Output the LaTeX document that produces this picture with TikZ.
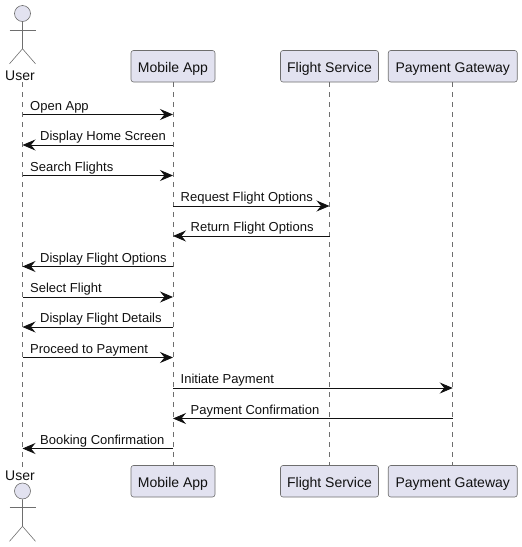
\documentclass[tikz,border=0pt]{standalone}
\usepackage{fontspec}
\setmainfont{Liberation Sans}
\usetikzlibrary{arrows.meta}
\definecolor{pfill}{HTML}{E2E2F0}
\definecolor{pline}{HTML}{6E6E6E}
\definecolor{ink}{HTML}{111111}
\tikzset{
  partbox/.style={draw=pline,fill=pfill,rounded corners=2.5pt,line width=0.6pt,minimum height=31.5pt,inner sep=0pt,text=ink,text height=12pt,text depth=0pt,font=\fontsize{14}{16}\selectfont},
  lifeline/.style={draw=pline,line width=0.6pt,dash pattern=on 5pt off 5pt},
  actorline/.style={draw=pline,line width=0.6pt},
  actorhead/.style={draw=pline,fill=pfill,line width=0.6pt,circle,minimum size=16pt,inner sep=0pt},
  actorname/.style={text=ink,inner sep=0pt,font=\fontsize{14}{16}\selectfont},
  msgarrow/.style={draw=ink,line width=0.85pt,-{Stealth[length=13pt,width=11pt,inset=4.5pt]}},
  msgtext/.style={text=ink,inner sep=0pt,anchor=base west,font=\fontsize{13}{15}\selectfont},
}
\newcommand{\msgright}[4]{%
  \draw[msgarrow] (#1 |- 0,#3) -- (#2 |- 0,#3);
  \node[msgtext] at ([xshift=7.5pt]#1 |- 0,#3-4.5) {#4};}
\newcommand{\msgleft}[4]{%
  \draw[msgarrow] (#1 |- 0,#3) -- (#2 |- 0,#3);
  \node[msgtext] at ([xshift=17.5pt]#2 |- 0,#3-4.5) {#4};}
\newcommand{\stick}[2]{%
  \node[actorhead] (#2) at (22.5,#1) {};
  \draw[actorline] (#2.south) -- ++(0,27) coordinate (#2hip) -- ++(-13,15);
  \draw[actorline] (#2hip) -- ++(13,15);
  \draw[actorline] ([yshift=-8pt]#2.south) ++(-13,0) -- ++(26,0);}
\begin{document}
\begin{tikzpicture}[x=1pt,y=-1pt]
\useasboundingbox (0,0) rectangle (522,547);
\node[actorname,anchor=base] (utop) at (20,80) {User};
\node[actorname,anchor=base] (ubot) at (20,480) {User};
\node[partbox,minimum width=84pt] (mtop) at (173,66.25) {Mobile App};
\node[partbox,minimum width=98pt] (ftop) at (329.5,66.25) {Flight Service};
\node[partbox,minimum width=129pt] (ptop) at (452.75,66.25) {Payment Gateway};
\node[partbox,minimum width=84pt] (mbot) at (173,481.25) {Mobile App};
\node[partbox,minimum width=98pt] (fbot) at (329.5,481.25) {Flight Service};
\node[partbox,minimum width=129pt] (pbot) at (452.75,481.25) {Payment Gateway};
\coordinate (U) at (22.5,0);
\coordinate (M) at (mtop.south);
\coordinate (F) at (ftop.south);
\coordinate (P) at (ptop.south);
\draw[lifeline] (U |- utop.south) ++(0,2) -- (U |- ubot.north);
\draw[lifeline] (mtop.south) -- (mbot.north);
\draw[lifeline] (ftop.south) -- (fbot.north);
\draw[lifeline] (ptop.south) -- (pbot.north);
\stick{13.5}{headtop}
\stick{491}{headbot}
\msgright{U}{M}{114.5}{Open App}
\msgleft{M}{U}{145}{Display Home Screen}
\msgright{U}{M}{175.5}{Search Flights}
\msgright{M}{F}{206}{Request Flight Options}
\msgleft{F}{M}{236}{Return Flight Options}
\msgleft{M}{U}{266.5}{Display Flight Options}
\msgright{U}{M}{297}{Select Flight}
\msgleft{M}{U}{327}{Display Flight Details}
\msgright{U}{M}{357.5}{Proceed to Payment}
\msgright{M}{P}{388}{Initiate Payment}
\msgleft{P}{M}{418.5}{Payment Confirmation}
\msgleft{M}{U}{448.5}{Booking Confirmation}
\end{tikzpicture}
\end{document}
